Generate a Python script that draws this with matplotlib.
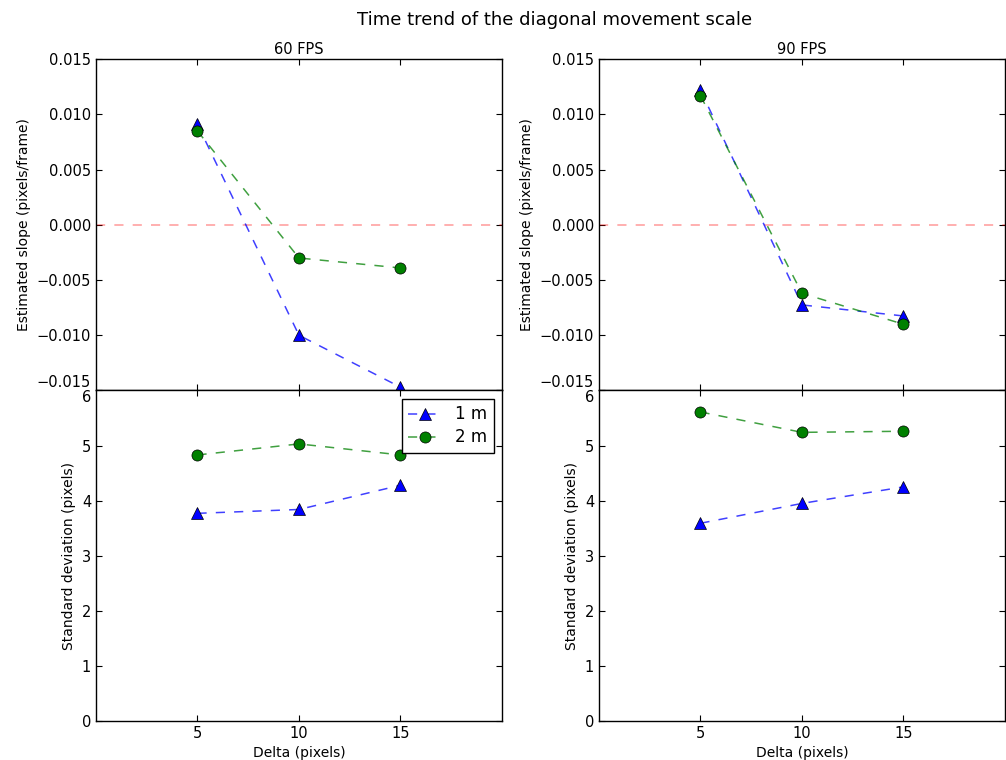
import numpy as np
import matplotlib
matplotlib.use("Agg")
import matplotlib.pyplot as plt

# delta values on the x axis
deltas = [5, 10, 15]
fps_labels = ["60 FPS", "90 FPS"]

# estimated slope (pixels/frame) for each frame rate
slope_1m = {"60 FPS": [0.0091, -0.0100, -0.0147],
            "90 FPS": [0.0122, -0.00725, -0.00825]}
slope_2m = {"60 FPS": [0.0085, -0.0030, -0.0039],
            "90 FPS": [0.0117, -0.0062, -0.0090]}

# standard deviation (pixels) for each frame rate
std_1m = {"60 FPS": [3.77, 3.84, 4.28],
          "90 FPS": [3.59, 3.95, 4.25]}
std_2m = {"60 FPS": [4.83, 5.03, 4.83],
          "90 FPS": [5.61, 5.24, 5.26]}

plt.rcParams['font.family'] = 'DejaVu Sans'
plt.rcParams['xtick.direction'] = 'in'
plt.rcParams['ytick.direction'] = 'in'
plt.rcParams['xtick.top'] = True
plt.rcParams['ytick.right'] = True
plt.rcParams['xtick.major.size'] = 4
plt.rcParams['ytick.major.size'] = 4
plt.rcParams['xtick.labelsize'] = 10.5
plt.rcParams['ytick.labelsize'] = 10.5
plt.rcParams['axes.labelsize'] = 10
plt.rcParams['axes.titlesize'] = 10.5
plt.rcParams['axes.linewidth'] = 1.0

fig = plt.figure(figsize=(10.06, 7.6), dpi=100, facecolor='white')
fig.suptitle("Time trend of the diagonal movement scale", fontsize=13, x=0.551, y=0.985)

lefts = [0.0954, 0.5954]
width = 0.4036
style_1m = dict(color=(0, 0, 1, 0.75), linestyle='--', dashes=(6, 6), lw=1.1,
                marker='^', markersize=8, markerfacecolor='b', markeredgecolor='k',
                markeredgewidth=0.5, label='1 m')
style_2m = dict(color=(0, 0.5, 0, 0.75), linestyle='--', dashes=(6, 6), lw=1.1,
                marker='o', markersize=8, markerfacecolor='g', markeredgecolor='k',
                markeredgewidth=0.5, label='2 m')

for i, name in enumerate(fps_labels):
    ax_top = fig.add_axes([lefts[i], 0.4862, width, 0.922 - 0.4862])
    ax_bot = fig.add_axes([lefts[i], 0.0513, width, 0.4862 - 0.0513])

    ax_top.axhline(0, color='r', alpha=0.4, linestyle='--', dashes=(6, 6), lw=1.1)
    ax_top.plot(deltas, slope_1m[name], **style_1m)
    ax_top.plot(deltas, slope_2m[name], **style_2m)
    ax_top.set_xlim(0, 20)
    ax_top.set_ylim(-0.015, 0.015)
    ax_top.set_xticks([5, 10, 15])
    ax_top.set_yticks(np.arange(-0.015, 0.0151, 0.005))
    ax_top.set_yticklabels(['\u22120.015', '\u22120.010', '\u22120.005',
                            '0.000', '0.005', '0.010', '0.015'])
    ax_top.tick_params(labelbottom=False)
    ax_top.set_title(name, pad=4)
    ax_top.set_ylabel("Estimated slope (pixels/frame)")
    # keep the edge label clear of the panel below
    ax_top.get_yticklabels()[0].set_verticalalignment('bottom')

    ax_bot.plot(deltas, std_1m[name], **style_1m)
    ax_bot.plot(deltas, std_2m[name], **style_2m)
    ax_bot.set_xlim(0, 20)
    ax_bot.set_ylim(0, 6)
    ax_bot.set_xticks([5, 10, 15])
    ax_bot.set_yticks(range(7))
    ax_bot.set_xlabel("Delta (pixels)", labelpad=4)
    ax_bot.set_ylabel("Standard deviation (pixels)")
    ax_bot.get_yticklabels()[-1].set_verticalalignment('top')

    if i == 0:
        ax_bot.legend(loc='upper right', numpoints=1, fontsize=12, fancybox=False,
                      edgecolor='k', framealpha=1, borderaxespad=0.5,
                      handlelength=2, handletextpad=0.8, labelspacing=0.3)

fig.savefig("out.png", dpi=100, facecolor='white')
